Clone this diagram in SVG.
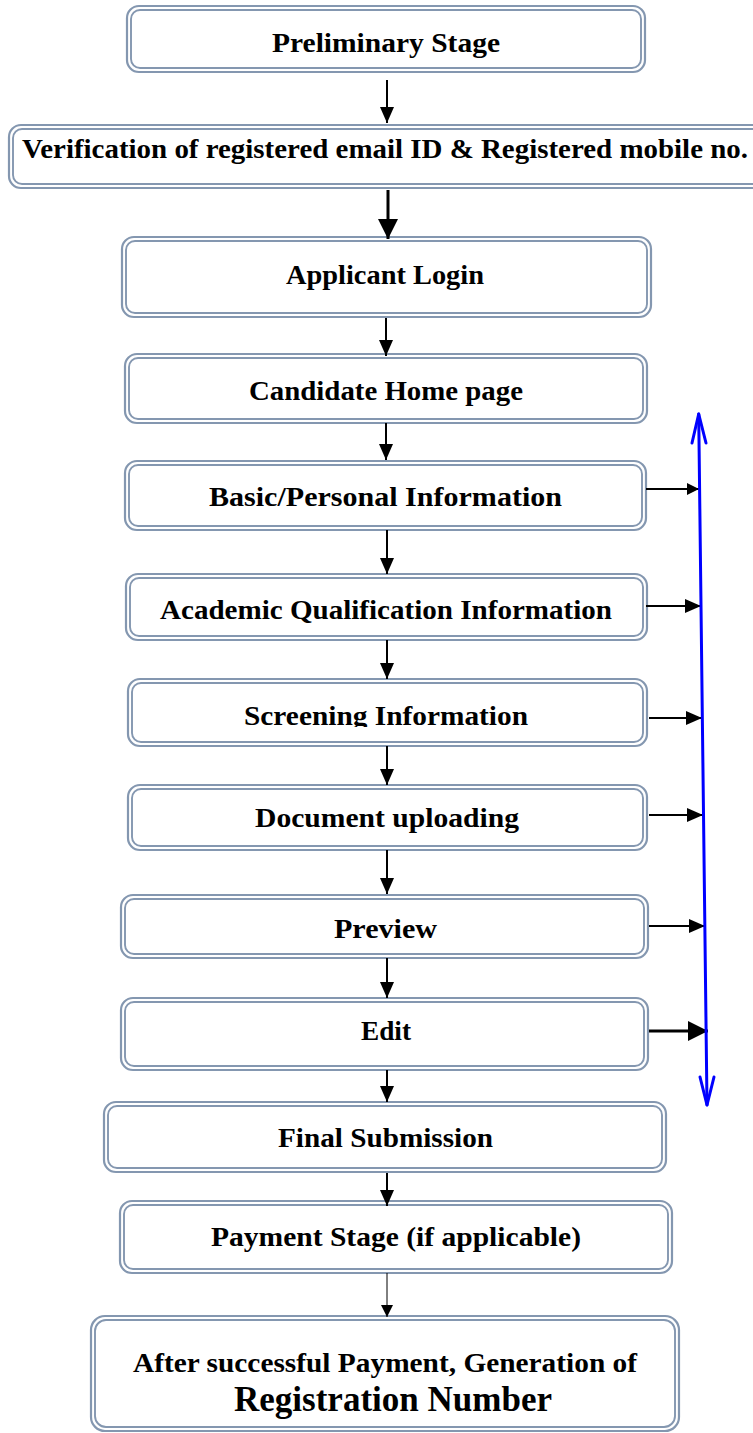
<svg xmlns="http://www.w3.org/2000/svg" width="753" height="1433" viewBox="0 0 753 1433">
<style>
.o{fill:#fff;stroke:#8497b0;stroke-width:2.2}
.i{fill:none;stroke:#8497b0;stroke-width:1.9}
.t{font-family:"Liberation Serif","Times New Roman",serif;font-weight:bold;font-size:27px;fill:#000;text-anchor:middle}
.d{stroke:#000;stroke-width:2;fill:none}
.b{stroke:#0000ff;stroke-width:3;fill:none;stroke-linecap:round;stroke-linejoin:round}
</style>
<defs>
<marker id="ah" viewBox="0 0 16 14" refX="16" refY="7" markerWidth="16" markerHeight="14" markerUnits="userSpaceOnUse" orient="auto"><path d="M0,0 L16,7 L0,14 z" fill="#000"/></marker>
<marker id="ahs" viewBox="0 0 12 12" refX="12" refY="6" markerWidth="12" markerHeight="12" markerUnits="userSpaceOnUse" orient="auto"><path d="M0,0 L12,6 L0,12 z" fill="#000"/></marker>
<marker id="ahl" viewBox="0 0 20 20" refX="20" refY="10" markerWidth="20" markerHeight="20" markerUnits="userSpaceOnUse" orient="auto"><path d="M0,0 L20,10 L0,20 z" fill="#000"/></marker>
<clipPath id="clipScr"><rect x="120" y="670" width="540" height="57"/></clipPath>
</defs>

<g id="n1"><rect class="o" x="127" y="6" width="518" height="66" rx="12"/><rect class="i" x="131" y="10" width="510" height="58" rx="9"/><text class="t" x="386" y="52" textLength="228" lengthAdjust="spacingAndGlyphs">Preliminary Stage</text></g>
<g id="n2"><rect class="o" x="9" y="125" width="770" height="63" rx="12"/><rect class="i" x="13" y="129" width="762" height="55" rx="9"/><text class="t" x="385" y="158" textLength="726" lengthAdjust="spacingAndGlyphs">Verification of registered email ID &amp; Registered mobile no.</text></g>
<g id="n3"><rect class="o" x="122" y="237" width="529" height="80" rx="12"/><rect class="i" x="126" y="241" width="521" height="72" rx="9"/><text class="t" x="385" y="284" textLength="198" lengthAdjust="spacingAndGlyphs">Applicant Login</text></g>
<g id="n4"><rect class="o" x="125" y="354" width="522" height="69" rx="12"/><rect class="i" x="129" y="358" width="514" height="61" rx="9"/><text class="t" x="386" y="400" textLength="274" lengthAdjust="spacingAndGlyphs">Candidate Home page</text></g>
<g id="n5"><rect class="o" x="125" y="461" width="521" height="69" rx="12"/><rect class="i" x="129" y="465" width="513" height="61" rx="9"/><text class="t" x="385.5" y="506" textLength="353" lengthAdjust="spacingAndGlyphs">Basic/Personal Information</text></g>
<g id="n6"><rect class="o" x="126" y="574" width="521" height="66" rx="12"/><rect class="i" x="130" y="578" width="513" height="58" rx="9"/><text class="t" x="386" y="619" textLength="452" lengthAdjust="spacingAndGlyphs">Academic Qualification Information</text></g>
<g id="n7"><rect class="o" x="128" y="679" width="519" height="67" rx="12"/><rect class="i" x="132" y="683" width="511" height="59" rx="9"/><text class="t" x="386" y="725" textLength="284" lengthAdjust="spacingAndGlyphs" clip-path="url(#clipScr)">Screening Information</text></g>
<g id="n8"><rect class="o" x="128" y="785" width="519" height="65" rx="12"/><rect class="i" x="132" y="789" width="511" height="57" rx="9"/><text class="t" x="387" y="827" textLength="264" lengthAdjust="spacingAndGlyphs">Document uploading</text></g>
<g id="n9"><rect class="o" x="121" y="895" width="527" height="63" rx="12"/><rect class="i" x="125" y="899" width="519" height="55" rx="9"/><text class="t" x="385.5" y="938" textLength="103" lengthAdjust="spacingAndGlyphs">Preview</text></g>
<g id="n10"><rect class="o" x="121" y="998" width="527" height="72" rx="12"/><rect class="i" x="125" y="1002" width="519" height="64" rx="9"/><text class="t" x="386" y="1040" textLength="50" lengthAdjust="spacingAndGlyphs">Edit</text></g>
<g id="n11"><rect class="o" x="104" y="1102" width="562" height="70" rx="12"/><rect class="i" x="108" y="1106" width="554" height="62" rx="9"/><text class="t" x="385.5" y="1147" textLength="215" lengthAdjust="spacingAndGlyphs">Final Submission</text></g>
<g id="n12"><rect class="o" x="120" y="1201" width="552" height="72" rx="12"/><rect class="i" x="124" y="1205" width="544" height="64" rx="9"/><text class="t" x="396" y="1246" textLength="370" lengthAdjust="spacingAndGlyphs">Payment Stage (if applicable)</text></g>
<g id="n13"><rect class="o" x="91" y="1316" width="588" height="115" rx="14"/><rect class="i" x="95" y="1320" width="580" height="107" rx="11"/><text class="t" x="385" y="1372" textLength="504" lengthAdjust="spacingAndGlyphs">After successful Payment, Generation of</text><text class="t" x="393" y="1411" style="font-size:35px" textLength="318" lengthAdjust="spacingAndGlyphs">Registration Number</text></g>

<g id="connectors">
<line class="d" x1="387" y1="80" x2="387" y2="123" marker-end="url(#ah)"/>
<line class="d" x1="388" y1="190" x2="388" y2="239" style="stroke-width:3" marker-end="url(#ahl)"/>
<line class="d" x1="386" y1="318" x2="386" y2="356" marker-end="url(#ah)"/>
<line class="d" x1="386" y1="423" x2="386" y2="460" marker-end="url(#ah)"/>
<line class="d" x1="387" y1="530" x2="387" y2="574" marker-end="url(#ah)"/>
<line class="d" x1="387" y1="640" x2="387" y2="679" marker-end="url(#ah)"/>
<line class="d" x1="387" y1="746" x2="387" y2="785" marker-end="url(#ah)"/>
<line class="d" x1="387" y1="850" x2="387" y2="894" marker-end="url(#ah)"/>
<line class="d" x1="387" y1="958" x2="387" y2="998" marker-end="url(#ah)"/>
<line class="d" x1="387" y1="1070" x2="387" y2="1102" marker-end="url(#ah)"/>
<line class="d" x1="387" y1="1173" x2="387" y2="1206" marker-end="url(#ah)"/>
<line class="d" x1="387" y1="1273" x2="387" y2="1317" style="stroke-width:1" marker-end="url(#ahs)"/>

<line class="d" x1="646" y1="489" x2="699" y2="489" marker-end="url(#ahs)"/>
<line class="d" x1="646" y1="606" x2="701" y2="606" marker-end="url(#ah)"/>
<line class="d" x1="649" y1="718" x2="702" y2="718" marker-end="url(#ah)"/>
<line class="d" x1="649" y1="815" x2="703" y2="815" marker-end="url(#ah)"/>
<line class="d" x1="649" y1="926" x2="705" y2="926" marker-end="url(#ah)"/>
<line class="d" x1="649" y1="1031" x2="708" y2="1031" style="stroke-width:3" marker-end="url(#ahl)"/>

<line class="b" x1="698.7" y1="414" x2="707" y2="1105"/>
<path class="b" d="M692,443 L698.7,414 L706,443"/>
<path class="b" d="M700,1077 L707,1105 L714,1077"/>
</g>
</svg>
